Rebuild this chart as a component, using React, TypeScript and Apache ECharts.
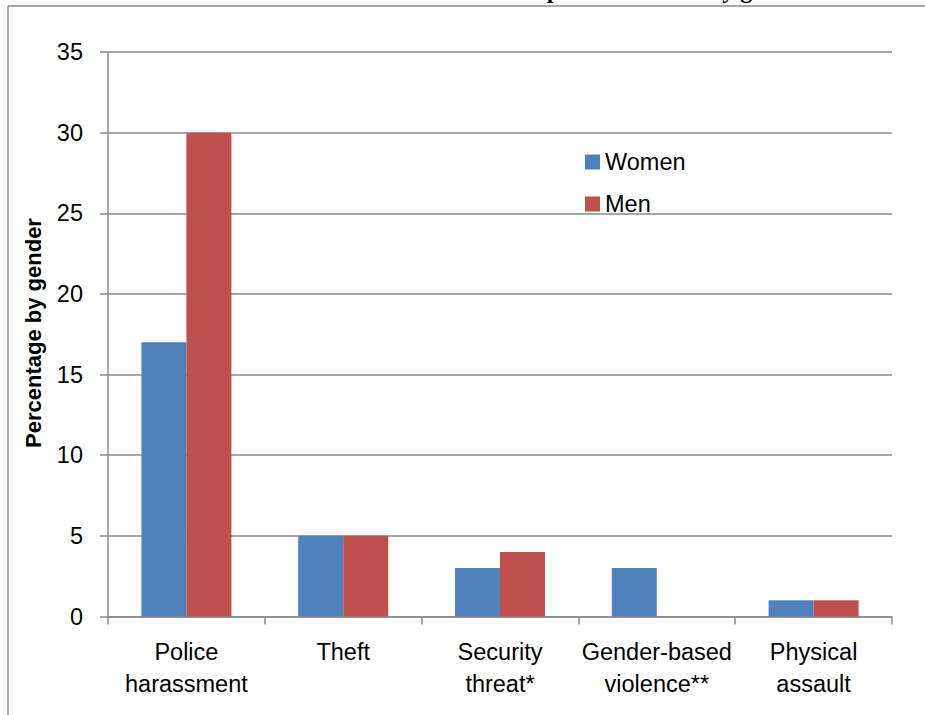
import React, { useEffect, useRef } from "react";
import * as echarts from "echarts";

const categories = [
  "Police\nharassment",
  "Theft",
  "Security\nthreat*",
  "Gender-based\nviolence**",
  "Physical\nassault",
];
const women = [17, 5, 3, 3, 1];
const men = [30, 5, 4, 0, 1];
const yTicks = { min: 0, max: 35, interval: 5 };

const SANS = "'Liberation Sans', Arial, sans-serif";
const GRID_GRAY = "#8a8a8a";

export default function App() {
  const ref = useRef<HTMLDivElement>(null);

  useEffect(() => {
    if (!ref.current) return;
    const chart = echarts.init(ref.current, null, { renderer: "svg" });
    chart.setOption({
      animation: false,
      backgroundColor: "#ffffff",
      grid: { left: 108, right: 33, top: 52, bottom: 98.5, containLabel: false },
      legend: {
        orient: "vertical",
        left: 585,
        top: 150,
        padding: 0,
        itemWidth: 15,
        itemHeight: 15,
        itemGap: 18,
        icon: "rect",
        textStyle: { fontFamily: SANS, fontSize: 23.5, color: "#000", lineHeight: 24 },
        data: ["Women", "Men"],
      },
      xAxis: {
        type: "category",
        data: categories,
        axisLine: { lineStyle: { color: GRID_GRAY, width: 1.5 } },
        axisTick: { show: true, length: 8, interval: 0, lineStyle: { color: GRID_GRAY, width: 1.5 } },
        axisLabel: {
          interval: 0,
          margin: 19,
          fontFamily: SANS,
          fontSize: 23.5,
          lineHeight: 32,
          color: "#000",
        },
      },
      yAxis: {
        type: "value",
        min: yTicks.min,
        max: yTicks.max,
        interval: yTicks.interval,
        axisLine: { show: true, lineStyle: { color: GRID_GRAY, width: 1.5 } },
        axisTick: { show: true, length: 8, lineStyle: { color: GRID_GRAY, width: 1.5 } },
        splitLine: { lineStyle: { color: GRID_GRAY, width: 1.5 } },
        axisLabel: { margin: 25, fontFamily: SANS, fontSize: 23.5, color: "#000" },
      },
      series: [
        {
          name: "Women",
          type: "bar",
          data: women,
          barWidth: 45,
          barGap: "0%",
          itemStyle: { color: "#4F81BD" },
        },
        {
          name: "Men",
          type: "bar",
          data: men,
          barWidth: 45,
          itemStyle: { color: "#C0504D" },
        },
      ],
      graphic: [
        // chart-area border (top and left edges; the rest runs off the page)
        {
          type: "line",
          shape: { x1: 8, y1: 6, x2: 925, y2: 6 },
          style: { stroke: GRID_GRAY, lineWidth: 1.5 },
          silent: true,
        },
        {
          type: "line",
          shape: { x1: 8, y1: 6, x2: 8, y2: 715 },
          style: { stroke: GRID_GRAY, lineWidth: 1.5 },
          silent: true,
        },
        {
          type: "text",
          x: 486,
          y: -10.5,
          style: {
            text: "Main problems faced by gender",
            font: "bold 24px 'Liberation Serif', 'Times New Roman', serif",
            fill: "#000",
            align: "left",
            verticalAlign: "middle",
          },
        },
        {
          type: "text",
          x: 33,
          y: 333,
          rotation: Math.PI / 2,
          style: {
            text: "Percentage by gender",
            font: `bold 22px ${SANS}`,
            fill: "#000",
            align: "center",
            verticalAlign: "middle",
          },
        },
      ],
    });
    return () => chart.dispose();
  }, []);

  return (
    <div
      ref={ref}
      style={{ position: "fixed", left: 0, top: 0, width: 925, height: 715, background: "#fff" }}
    />
  );
}
